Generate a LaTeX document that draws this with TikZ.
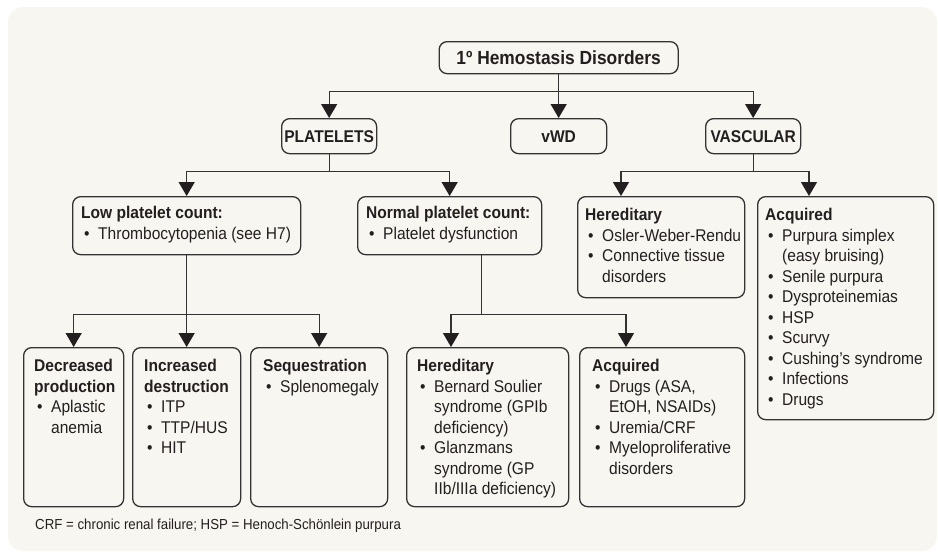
\documentclass[tikz,border=0pt]{standalone}
\usepackage{fontspec}
\setmainfont{Liberation Sans}[FakeStretch=0.915]
\usetikzlibrary{arrows.meta}
\definecolor{bgc}{HTML}{F7F6F0}
\definecolor{ln}{HTML}{333333}
\definecolor{tx}{HTML}{231F20}
\newcommand\bl{\makebox[17pt][l]{\hspace{3pt}\textbullet}}
\newcommand\ind{\hspace*{17pt}}
\begin{document}
\begin{tikzpicture}[x=1pt,y=-1pt,
  box/.style={draw=ln, line width=1.3pt, rounded corners=8pt, fill=bgc, inner sep=0pt, anchor=north west},
  txt/.style={anchor=north west, inner sep=0pt, align=left, text=tx, font=\fontsize{17}{20.5}\selectfont},
  ttl/.style={text=tx, font=\bfseries\fontsize{17}{20.5}\selectfont},
  arr/.style={draw=ln, line width=1.3pt, -{Triangle[width=16pt,length=14pt,color=tx]}},
  con/.style={draw=ln, line width=1.3pt}]
\useasboundingbox (0,0) rectangle (938,552);
\fill[bgc, rounded corners=15pt] (8,7) rectangle (937,551);

% top level
\node[box, ttl, font=\bfseries\fontsize{19}{22}\selectfont, minimum width=239pt, minimum height=32pt] (top) at (438.5,41) {1º Hemostasis Disorders};
\node[box, ttl, minimum width=95pt, minimum height=35pt] (plat) at (281,118) {PLATELETS};
\node[box, ttl, minimum width=96pt, minimum height=35pt] (vwd) at (510,118) {vWD};
\node[box, ttl, minimum width=95pt, minimum height=35pt] (vasc) at (705,118) {VASCULAR};

% second level
\node[box, minimum width=228pt, minimum height=58pt] (low) at (72,196) {};
\node[box, minimum width=184pt, minimum height=58pt] (norm) at (357,196) {};
\node[box, minimum width=167pt, minimum height=101pt] (vher) at (577,196) {};
\node[box, minimum width=176pt, minimum height=223pt] (vacq) at (757,196) {};

% third level
\node[box, minimum width=100pt, minimum height=159pt] (dec) at (23,347) {};
\node[box, minimum width=108pt, minimum height=159pt] (inc) at (132,347) {};
\node[box, minimum width=137pt, minimum height=159pt] (seq) at (250,347) {};
\node[box, minimum width=162pt, minimum height=159pt] (pher) at (406,347) {};
\node[box, minimum width=165pt, minimum height=159pt] (pacq) at (579,347) {};

% texts
\node[txt] (lowT) at ([shift={(9,10)}]low.north west) {{\bfseries Low platelet count:}\\\bl Thrombocytopenia (see H7)};
\node[txt] (normT) at ([shift={(9,10)}]norm.north west) {{\bfseries Normal platelet count:}\\\bl Platelet dysfunction};
\node[txt] (vherT) at ([shift={(8,12)}]vher.north west) {{\bfseries Hereditary}\\\bl Osler-Weber-Rendu\\\bl Connective tissue\\\ind disorders};
\node[txt] (vacqT) at ([shift={(8,12)}]vacq.north west) {{\bfseries Acquired}\\\bl Purpura simplex\\\ind (easy bruising)\\\bl Senile purpura\\\bl Dysproteinemias\\\bl HSP\\\bl Scurvy\\\bl Cushing’s syndrome\\\bl Infections\\\bl Drugs};
\node[txt] (decT) at ([shift={(11,12)}]dec.north west) {{\bfseries Decreased}\\{\bfseries production}\\\bl Aplastic\\\ind anemia};
\node[txt] (incT) at ([shift={(12,12)}]inc.north west) {{\bfseries Increased}\\{\bfseries destruction}\\\bl ITP\\\bl TTP/HUS\\\bl HIT};
\node[txt] (seqT) at ([shift={(13,12)}]seq.north west) {{\bfseries Sequestration}\\\bl Splenomegaly};
\node[txt] (pherT) at ([shift={(11,12)}]pher.north west) {{\bfseries Hereditary}\\\bl Bernard Soulier\\\ind syndrome (GPIb\\\ind deficiency)\\\bl Glanzmans\\\ind syndrome (GP\\\ind IIb/IIIa deficiency)};
\node[txt] (pacqT) at ([shift={(13,12)}]pacq.north west) {{\bfseries Acquired}\\\bl Drugs (ASA,\\\ind EtOH, NSAIDs)\\\bl Uremia/CRF\\\bl Myeloproliferative\\\ind disorders};

\node[anchor=north west, inner sep=0pt, text=tx, font=\fontsize{14.5}{16}\selectfont] (fn) at (35,519) {CRF = chronic renal failure; HSP = Henoch-Schönlein purpura};

% connectors
\path (top.south) ++(0,17) coordinate (j1);
\draw[con] (top.south) -- (j1);
\draw[arr] (j1) -| (plat.north);
\draw[arr] (j1) -- (vwd.north);
\draw[arr] (j1) -| (vasc.north);

\path (plat.south) ++(0,17) coordinate (j2);
\draw[con] (plat.south) -- (j2);
\draw[arr] (j2) -| (low.north);
\draw[arr] (j2) -| (norm.north);

\path (vasc.south) ++(0,17) coordinate (j3);
\draw[con] (vasc.south) -- (j3);
\draw[arr] (j3) -| ([xshift=44pt]vher.north west);
\draw[arr] (j3) -| ([xshift=52pt]vacq.north west);

\path (low.south) ++(0,59) coordinate (j4);
\draw[con] (low.south) -- (j4);
\draw[arr] (j4) -| (dec.north);
\draw[arr] (j4) -- (inc.north);
\draw[arr] (j4) -| (seq.north);

\coordinate (n0) at ([xshift=32pt]norm.south);
\path (n0) ++(0,59) coordinate (j5);
\draw[con] (n0) -- (j5);
\draw[arr] (j5) -| ([xshift=45pt]pher.north west);
\draw[arr] (j5) -| ([xshift=47pt]pacq.north west);
\end{tikzpicture}
\end{document}
